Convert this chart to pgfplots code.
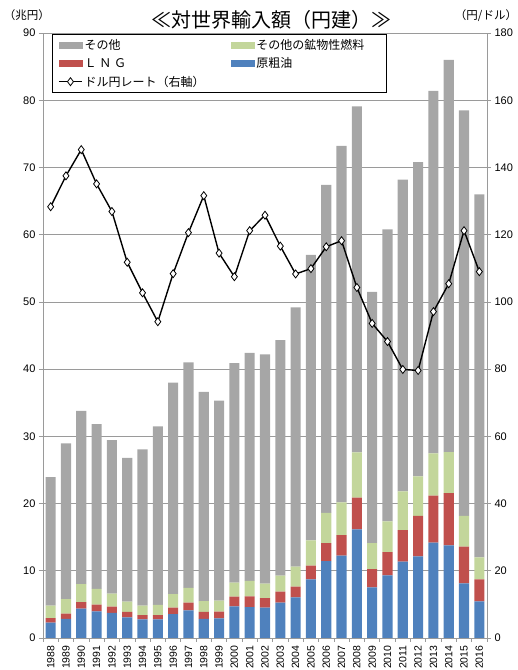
\documentclass[border=0pt]{standalone}
\usepackage{fontspec}
\setmainfont{Liberation Sans}
\newfontfamily\jp{Noto Sans CJK JP}
\usepackage{pgfplots}
\usepackage{pgfplotstable}
\pgfplotsset{compat=1.18}

\definecolor{cOther}{HTML}{A6A6A6}
\definecolor{cFuel}{HTML}{C3D69B}
\definecolor{cLNG}{HTML}{C0504D}
\definecolor{cCrude}{HTML}{4F81BD}
\definecolor{cAxis}{HTML}{9A9A9A}

% imports by category (trillion yen) and yen/dollar rate
\pgfplotstableread{
x year crude lng  fuel other rate
0  1988 2.28  0.69 1.84 19.14 128.3
1  1989 2.83  0.79 2.18 23.15 137.5
2  1990 4.36  0.99 2.68 25.77 145.3
3  1991 3.97  0.99 2.33 24.51 135.1
4  1992 3.72  0.94 1.93 22.86 126.9
5  1993 3.07  0.80 1.53 21.40 111.8
6  1994 2.78  0.64 1.39 23.25 102.7
7  1995 2.78  0.64 1.49 26.59 94.1
8  1996 3.57  0.94 2.03 31.46 108.4
9  1997 4.11  1.15 2.18 33.56 120.6
10 1998 2.83  1.04 1.63 31.10 131.6
11 1999 2.93  0.99 1.63 29.75 114.5
12 2000 4.71  1.44 2.08 32.67 107.5
13 2001 4.61  1.59 2.28 33.92 121.2
14 2002 4.51  1.44 2.15 34.10 125.8
15 2003 5.26  1.63 2.38 35.03 116.6
16 2004 6.05  1.59 2.96 38.60 108.3
17 2005 8.73  2.03 3.77 42.47 109.9
18 2006 11.45 2.68 4.47 48.80 116.4
19 2007 12.25 3.07 4.86 53.02 118.2
20 2008 16.16 4.71 6.73 51.50 104.3
21 2009 7.54  2.72 3.87 37.37 93.6
22 2010 9.32  3.47 4.56 43.45 88.2
23 2011 11.35 4.71 5.74 46.40 79.9
24 2012 12.15 6.00 5.90 46.75 79.6
25 2013 14.18 6.99 6.30 53.93 97.1
26 2014 13.78 7.79 6.09 58.34 105.4
27 2015 8.13  5.45 4.57 60.35 121.2
28 2016 5.45  3.28 3.27 54.00 109.0
}\imports

\pgfplotsset{
  base/.style={
    at={(43pt,32pt)}, anchor=south west,
    scale only axis, width=444pt, height=605pt,
    xmin=-0.5, xmax=28.5,
    axis line style={cAxis, line width=0.7pt},
    tick align=outside, major tick length=4pt,
    tick style={cAxis, line width=0.7pt},
    /pgf/number format/assume math mode=true,
    yticklabel style={font=\fontsize{11}{12}\selectfont},
  },
  barleg/.style={legend image code/.code={\fill[##1] (0pt,-3pt) rectangle (23pt,3pt);}},
  rateleg/.style={legend image code/.code={\draw[mark repeat=2, mark phase=2, ##1] plot coordinates {(0pt,0pt) (11.5pt,0pt) (23pt,0pt)};}},
}

\begin{document}
\begin{tikzpicture}
\useasboundingbox (0pt,0pt) rectangle (518pt,670pt);

\begin{axis}[base,
  ymin=0, ymax=90, ytick={0,10,...,90},
  axis x line*=bottom, axis y line*=left,
  ymajorgrids, grid style={cAxis, line width=0.7pt},
  ybar stacked, bar width=0.66,
  xtick={0,...,28},
  xticklabels={1988,1989,1990,1991,1992,1993,1994,1995,1996,1997,1998,1999,2000,2001,2002,2003,2004,2005,2006,2007,2008,2009,2010,2011,2012,2013,2014,2015,2016},
  xtick style={draw=none},
  xticklabel style={rotate=90, anchor=east, font=\fontsize{10.5}{12}\selectfont},
  extra x ticks={-0.5,0.5,...,28.5},
  extra x tick labels={},
  extra x tick style={xtick style={draw=cAxis, line width=0.7pt}},
]
\addplot[fill=cCrude, draw=none] table[x=x, y=crude]{\imports};
\addplot[fill=cLNG, draw=none] table[x=x, y=lng]{\imports};
\addplot[fill=cFuel, draw=none] table[x=x, y=fuel]{\imports};
\addplot[fill=cOther, draw=none] table[x=x, y=other]{\imports};
\end{axis}

\begin{axis}[base,
  ymin=0, ymax=180, ytick={0,20,...,180},
  axis x line=none, axis y line*=right,
  legend columns=2,
  legend cell align=left,
  legend style={at={(0.02,0.998)}, anchor=north west,
    draw=black, line width=0.8pt, fill=white,
    font=\jp\fontsize{12}{14}\selectfont,
    inner xsep=6pt, inner ysep=3pt, row sep=2.5pt,
    /tikz/every even column/.append style={column sep=4pt}},
]
\addlegendimage{barleg, cOther}
\addlegendentry{\makebox[140pt][l]{その他}}
\addlegendimage{barleg, cFuel}
\addlegendentry{\makebox[122pt][l]{その他の鉱物性燃料}}
\addlegendimage{barleg, cLNG}
\addlegendentry{\makebox[140pt][l]{Ｌ Ｎ Ｇ}}
\addlegendimage{barleg, cCrude}
\addlegendentry{原粗油}
\addplot[black, line width=1.4pt, mark=diamond*,
  mark options={fill=white, draw=black, line width=0.8pt}, mark size=4pt,
  rateleg]
  table[x=x, y=rate]{\imports};
\addlegendentry{\makebox[140pt][l]{ドル円レート（右軸）}}
\end{axis}

\node[font=\jp\fontsize{20}{23}\selectfont] at (271pt,650pt) {≪対世界輸入額（円建）≫};
\node[font=\jp\fontsize{11.5}{13}\selectfont] at (27pt,655pt) {（兆円）};
\node[font=\jp\fontsize{11.5}{13}\selectfont] at (486pt,654pt) {（円/ドル）};
\end{tikzpicture}
\end{document}
